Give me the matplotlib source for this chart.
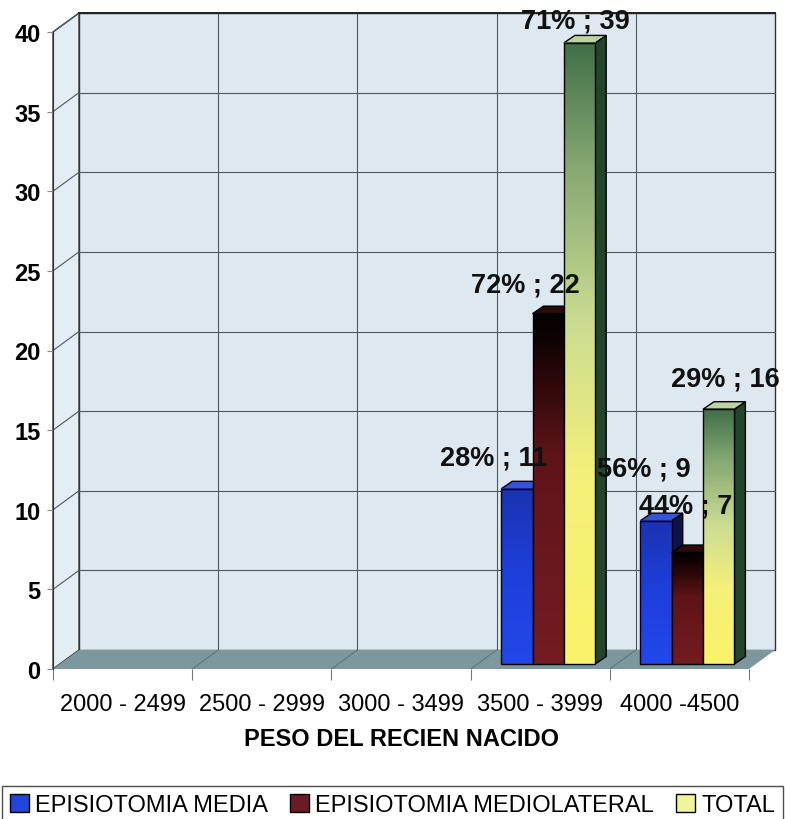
import numpy as np
import matplotlib.pyplot as plt
from matplotlib.patches import Polygon, Patch, Rectangle
from matplotlib.colors import LinearSegmentedColormap

plt.rcParams['font.family'] = ['Liberation Sans', 'DejaVu Sans']

# datos por rango de peso del recien nacido
categorias = ['2000 - 2499', '2500 - 2999', '3000 - 3499', '3500 - 3999', '4000 -4500']
epi_media = [np.nan, np.nan, np.nan, 11, 9]
epi_mediolateral = [np.nan, np.nan, np.nan, 22, 7]
total = [np.nan, np.nan, np.nan, 39, 16]
pct_media = [None, None, None, 28, 56]
pct_mediolateral = [None, None, None, 72, 44]
pct_total = [None, None, None, 71, 29]
nombres = ['EPISIOTOMIA MEDIA', 'EPISIOTOMIA MEDIOLATERAL', 'TOTAL']

# desplazamiento de las etiquetas (pixeles, respecto al centro superior de la barra)
desp_media = [None, None, None, (-23, 31), (-12, 52)]
desp_mediolateral = [None, None, None, (-23, 29), (-2, 47)]
desp_total = [None, None, None, (-4, 22), (7, 31)]

fig = plt.figure(figsize=(7.85, 8.2), dpi=100)
ax = fig.add_axes([53 / 785, 150 / 820, 696 / 785, 637 / 820])

px_x = 696 / 5.0     # pixeles por categoria
px_y = 637 / 40.0    # pixeles por unidad
wdx, wdy = 26 / px_x, 19 / px_y   # profundidad de paredes
bdx, bdy = 11 / px_x, 7.5 / px_y  # profundidad de las barras
sx, sy = 8 / px_x, 5 / px_y       # barras un poco hacia el fondo
ancho = 0.225
ymax = 40

# paredes y piso
xl, xr = -0.5, 4.5
ax.add_patch(Polygon([(xl + wdx, wdy), (xr + wdx, wdy), (xr + wdx, ymax + wdy), (xl + wdx, ymax + wdy)],
                     fc='#dee8f1', ec='#333333', lw=1, zorder=0.5, clip_on=False))
ax.add_patch(Polygon([(xl, 0), (xl + wdx, wdy), (xl + wdx, ymax + wdy), (xl, ymax)],
                     fc='#e4ecf4', ec='#333333', lw=1, zorder=0.6, clip_on=False))
ax.add_patch(Polygon([(xl, 0), (xr, 0), (xr + wdx, wdy), (xl + wdx, wdy)],
                     fc='#7c979e', ec='none', zorder=1.5, clip_on=False))

# rejilla de la pared
for v in range(5, ymax + 1, 5):
    ax.plot([xl + wdx, xr + wdx], [v + wdy, v + wdy], color='#4d5863', lw=0.8, zorder=1, clip_on=False)
    ax.plot([xl, xl + wdx], [v, v + wdy], color='#4d5863', lw=0.8, zorder=1, clip_on=False)
for b in np.arange(0.5, 4.5, 1.0):
    ax.plot([b + wdx, b + wdx], [wdy, ymax + wdy], color='#4d5863', lw=0.8, zorder=1, clip_on=False)
    ax.plot([b, b + wdx], [0, wdy], color='#5d7178', lw=0.7, zorder=1.6)
ax.plot([xl + wdx, xr + wdx], [ymax + wdy, ymax + wdy], color='#222222', lw=1.4, zorder=1.1, clip_on=False)

# colores de cada serie
cmap_media = LinearSegmentedColormap.from_list('media', ['#2347ea', '#1f3fdc', '#1a33b0'])
cmap_mediolat = LinearSegmentedColormap.from_list('mediolat', [(0, '#741c22'), (0.6, '#5e1419'),
                                                               (0.82, '#2a0708'), (0.95, '#0a0202'),
                                                               (1, '#080202')])
cmap_total = LinearSegmentedColormap.from_list('total', [(0, '#fbf36a'), (0.3, '#f4f07a'),
                                                         (0.55, '#cbdc92'), (0.8, '#86a873'),
                                                         (1, '#416f48')])
grad = np.linspace(0, 1, 256).reshape(-1, 1)

series = [
    (epi_media, pct_media, desp_media, cmap_media, '#0d1448', '#3455d6'),
    (epi_mediolateral, pct_mediolateral, desp_mediolateral, cmap_mediolat, '#0a0202', '#2c0b0b'),
    (total, pct_total, desp_total, cmap_total, '#23452b', '#bcd5a0'),
]


def barra_3d(x0, h, cmap, lado, tapa, z):
    x1 = x0 + ancho
    y0, y1 = sy, sy + h
    ax.add_patch(Polygon([(x1, y0), (x1 + bdx, y0 + bdy), (x1 + bdx, y1 + bdy), (x1, y1)],
                         fc=lado, ec='black', lw=1, zorder=z))
    ax.add_patch(Polygon([(x0, y1), (x1, y1), (x1 + bdx, y1 + bdy), (x0 + bdx, y1 + bdy)],
                         fc=tapa, ec='black', lw=1, zorder=z))
    ax.imshow(grad, extent=(x0, x1, y0, y1), origin='lower', aspect='auto',
              cmap=cmap, zorder=z + 0.02, interpolation='bilinear')
    ax.add_patch(Rectangle((x0, y0), ancho, h, fill=False, ec='black', lw=1, zorder=z + 0.03))


for k, (vals, pcts, desps, cmap, lado, tapa) in enumerate(series):
    for i, v in enumerate(vals):
        if np.isnan(v):
            continue
        x0 = i - 1.5 * ancho + sx + k * ancho
        barra_3d(x0, v, cmap, lado, tapa, 3 + k * 0.1)
        dx, dy = desps[i]
        ax.annotate(f'{pcts[i]}% ; {v}', (x0 + ancho / 2, sy + v),
                    xytext=(dx * 0.72, dy * 0.72), textcoords='offset points',
                    ha='center', va='center', fontsize=19.5, fontweight='bold',
                    color='#111111', zorder=10)

ax.set_xlim(xl, xr)
ax.set_ylim(0, ymax)
ax.set_facecolor('none')
for s in ['top', 'right', 'bottom']:
    ax.spines[s].set_visible(False)
ax.spines['left'].set_color('#333333')
ax.spines['left'].set_zorder(2)

ax.set_yticks(range(0, ymax + 1, 5))
ax.tick_params(axis='y', length=4, width=0.8, color='#888888', pad=5, labelsize=17)
for t in ax.get_yticklabels():
    t.set_fontweight('bold')

ax.set_xticks(np.arange(-0.5, 5, 1.0))
ax.set_xticklabels([])
ax.tick_params(axis='x', which='major', length=8, width=0.8, color='#777777')
ax.set_xticks(range(len(categorias)), minor=True)
ax.set_xticklabels(categorias, minor=True)
ax.tick_params(axis='x', which='minor', length=0, pad=17, labelsize=17, labelcolor='black')

fig.text(402 / 785, 1 - 740 / 820, 'PESO DEL RECIEN NACIDO', ha='center', va='center',
         fontsize=17, fontweight='bold')

handles = [Patch(fc='#2244dd', ec='black'), Patch(fc='#6b1a28', ec='black'),
           Patch(fc='#eef59a', ec='black')]
leg = fig.legend(handles, nombres, loc='center', bbox_to_anchor=(0.5, 1 - 806 / 820), ncol=3,
                 fontsize=17, frameon=True, fancybox=False, edgecolor='#222222',
                 handlelength=0.8, handleheight=0.8, handletextpad=0.25, columnspacing=0.95,
                 borderpad=0.35, borderaxespad=0)
leg.get_frame().set_linewidth(1)

fig.savefig('out.png', dpi=100, facecolor='white')
